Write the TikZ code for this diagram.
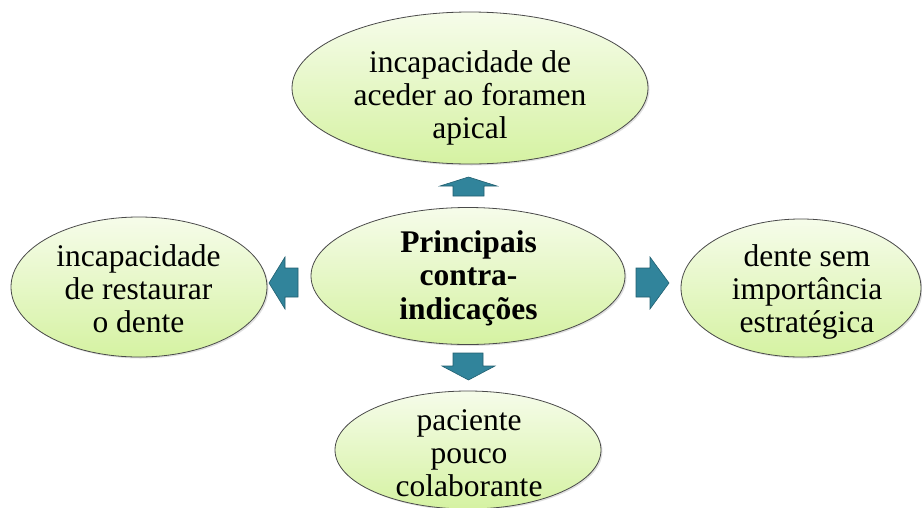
\documentclass[tikz,border=0pt]{standalone}
\usepackage{fontspec}
\setmainfont{Liberation Serif}
\usetikzlibrary{shapes.geometric,shadows}

\definecolor{ellTop}{HTML}{F6FCEA}
\definecolor{ellBot}{HTML}{D5F2A2}
\definecolor{ellLine}{HTML}{4A4A4A}
\definecolor{arrFill}{HTML}{31849B}
\definecolor{arrLine}{HTML}{215F70}

\tikzset{
  bubble/.style={ellipse, draw=ellLine, line width=0.8pt, inner sep=0pt,
    top color=ellTop, bottom color=ellBot,
    drop shadow={shadow xshift=1.5pt, shadow yshift=-1.5pt, opacity=0.25}},
  bubbletext/.style={align=center, inner sep=0pt,
    font=\fontsize{31.5}{33}\selectfont},
  blockarrow/.style={fill=arrFill, draw=arrLine, line width=0.6pt, line join=miter}
}

\begin{document}
\begin{tikzpicture}[x=1pt, y=-1pt]
  \useasboundingbox (0,0) rectangle (922,507);
  % ellipses
  \node[bubble, minimum width=356pt, minimum height=152pt] (top) at (470,88) {};
  \node[bubble, minimum width=314pt, minimum height=137pt] (mid) at (468,276) {};
  \node[bubble, minimum width=256pt, minimum height=140pt] (left) at (139,287) {};
  \node[bubble, minimum width=240pt, minimum height=138pt] (right) at (801,288) {};
  \node[bubble, minimum width=266pt, minimum height=118pt] (bottom) at (468,450) {};
  % texts
  \node[bubbletext] (toptxt) at (470,97.5) {incapacidade de\\aceder ao foramen\\apical};
  \node[bubbletext, font=\fontsize{31.5}{33.5}\selectfont\bfseries] (midtxt) at (468.5,278) {Principais\\contra-\\indicações};
  \node[bubbletext] (lefttxt) at (138.5,288.5) {incapacidade\\de restaurar\\o dente};
  \node[bubbletext] (righttxt) at (807,291.5) {dente sem\\importância\\estratégica};
  \node[bubbletext] (bottomtxt) at (469,453) {paciente\\pouco\\colaborante};
  % arrows
  \filldraw[blockarrow] (453,196) -- (453,186) -- (440,186) -- (468.5,177) -- (497,186) -- (484,186) -- (484,196) -- cycle;
  \filldraw[blockarrow] (453,353) -- (453,366) -- (442,366) -- (468.5,380) -- (495,366) -- (483,366) -- (483,353) -- cycle;
  \filldraw[blockarrow] (298,268) -- (285,268) -- (285,257) -- (269,283) -- (285,309) -- (285,297) -- (298,297) -- cycle;
  \filldraw[blockarrow] (636,268) -- (650,268) -- (650,257) -- (669,283) -- (650,309) -- (650,297) -- (636,297) -- cycle;
\end{tikzpicture}
\end{document}
